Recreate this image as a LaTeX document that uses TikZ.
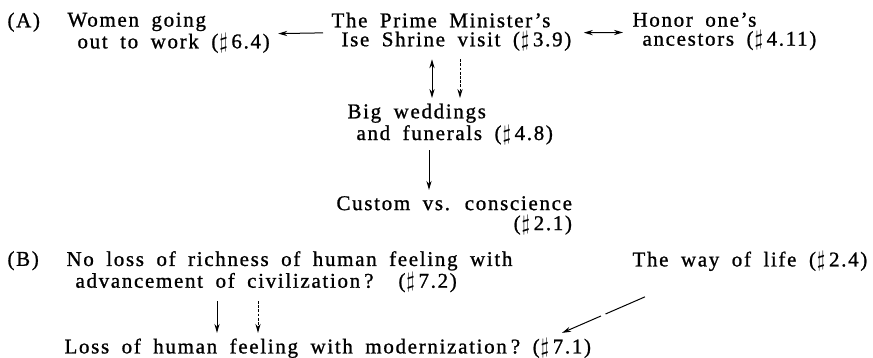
\documentclass[tikz,border=0pt]{standalone}
\usepackage{fontspec}
\setmainfont{Liberation Serif}[LetterSpace=8,WordSpace=1.8,FakeBold=1.0]
\usetikzlibrary{arrows.meta}

\newcommand{\nr}[1]{(\hspace{0.5pt}$\sharp$\hspace{1.8pt}#1)}

\tikzset{
	item/.style={anchor=north west, inner sep=0pt, align=left, font=\fontsize{10.5}{9.5}\selectfont},
	tip/.style={-{Stealth[length=4.5pt,width=2.6pt]}},
	tips/.style={{Stealth[length=4.5pt,width=2.6pt]}-{Stealth[length=4.5pt,width=2.6pt]}},
	dots/.style={dash pattern=on 1.4pt off 0.7pt},
}

\begin{document}
\begin{tikzpicture}[x=0.5pt, y=-0.5pt, line width=0.5pt]
	\useasboundingbox (0,0) rectangle (873,358);
	% (A)
	\node[item] (labA) at (7,12.2) {(A)};
	\node[item] (women) at (67,12.2) {Women going\\\hspace*{5pt}out to work \nr{6.4}};
	\node[item] (ise) at (331,12.2) {The Prime Minister's\\\hspace*{5pt}Ise Shrine visit \nr{3.9}};
	\node[item] (honor) at (632,12.2) {Honor one's\\\hspace*{5pt}ancestors \nr{4.11}};
	\node[item] (big) at (347,103.2) {Big weddings\\\hspace*{4.5pt}and funerals \nr{4.8}};
	\node[item, align=right, font=\fontsize{10.5}{10}\selectfont] (custom) at (336,195.7)
		{Custom vs. conscience\\\nr{2.1}};
	\draw[tip, shorten <=4pt, shorten >=4pt] ([yshift=-0.5pt]ise.west) -- ([yshift=-0.5pt]women.east);
	\draw[tips, shorten <=6pt, shorten >=4.5pt] ([yshift=-0.5pt]ise.east) -- ([yshift=-0.5pt]honor.west);
	\coordinate (v1) at (432,0);
	\coordinate (v2) at (460,0);
	\coordinate (v3) at (429,0);
	\draw[tips, shorten <=4pt, shorten >=2.6pt] (ise.south -| v1) -- (big.north -| v1);
	\draw[tip, dots, shorten <=4pt, shorten >=2.6pt] (ise.south -| v2) -- (big.north -| v2);
	\draw[tip, shorten <=2.7pt, shorten >=2.9pt] (big.south -| v3) -- (custom.north -| v3);
	% (B)
	\node[item] (labB) at (7,250.7) {(B)};
	\node[item, font=\fontsize{10.5}{8.5}\selectfont] (noloss) at (66,250.7)
		{No loss of richness of human feeling with\\\hspace*{4.5pt}advancement of civilization\hspace{2pt}?\ \ \nr{7.2}};
	\node[item] (way) at (632,250.7) {The way of life \nr{2.4}};
	\node[item] (loss) at (64,337.7) {Loss of human feeling with modernization\hspace{2pt}?\ \nr{7.1}};
	\coordinate (v4) at (217,0);
	\coordinate (v5) at (258,0);
	\draw[tip, shorten <=4.2pt, shorten >=2.4pt] (noloss.south -| v4) -- (loss.north -| v4);
	\draw[tip, dots, shorten <=4.2pt, shorten >=2.4pt] (noloss.south -| v5) -- (loss.north -| v5);
	\draw[tip, dash pattern=on 21.5pt off 2.5pt on 40pt off 0pt]
		([shift={(6.5pt,-12.7pt)}]way.south west) -- ([shift={(249pt,2.4pt)}]loss.north west);
\end{tikzpicture}
\end{document}
